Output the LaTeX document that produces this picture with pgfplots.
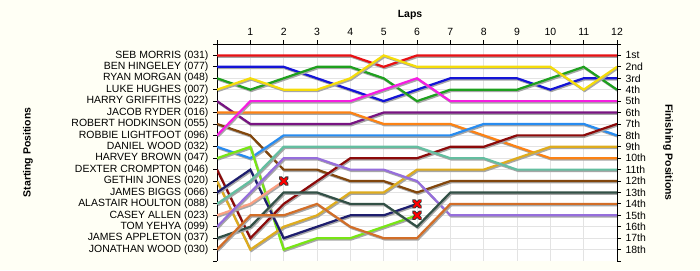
\documentclass[border=0pt]{standalone}
\usepackage{pgfplots}
\pgfplotsset{compat=1.18}
\usepackage{fontspec}
\setmainfont{Liberation Sans}
\definecolor{bg}{RGB}{255,255,245}
\definecolor{cRed}{RGB}{232,16,20}
\definecolor{cBlue}{RGB}{20,20,215}
\definecolor{cGreen}{RGB}{30,160,30}
\definecolor{cYellow}{RGB}{245,220,10}
\definecolor{cPurple}{RGB}{120,20,130}
\definecolor{cOrange}{RGB}{252,130,20}
\definecolor{cBrown}{RGB}{130,70,12}
\definecolor{cMagenta}{RGB}{245,30,225}
\definecolor{cLBlue}{RGB}{40,140,240}
\definecolor{cLime}{RGB}{120,230,20}
\definecolor{cDRed}{RGB}{140,10,10}
\definecolor{cGold}{RGB}{222,172,30}
\definecolor{cNavy}{RGB}{30,30,110}
\definecolor{cTeal}{RGB}{100,190,160}
\definecolor{cSalmon}{RGB}{250,160,130}
\definecolor{cLav}{RGB}{150,110,220}
\definecolor{cSlate}{RGB}{50,80,70}
\definecolor{cCopper}{RGB}{210,110,40}
\pgfplotsset{
  lap/.style={line width=2.2bp, no marks, preaction={draw=black!35, transform canvas={xshift=1bp, yshift=-1.3bp}}},
  common/.style={
    at={(217bp,9bp)}, anchor=south west,
    scale only axis, width=400bp, height=217bp,
    xmin=0, xmax=12, ymin=0, ymax=19, y dir=reverse,
    axis line style={-, black, line width=1bp},
    tick align=outside, major tick length=4bp,
    tick style={black, line width=0.8bp},
    ticklabel style={font=\fontsize{10.5}{12}\selectfont},
    /pgf/number format/assume math mode=true,
  }
}
\begin{document}
\begin{tikzpicture}[x=1bp,y=1bp]
\fill[bg] (0,0) rectangle (700,270);
\begin{axis}[common,
  axis background/.style={fill=white},
  axis x line*=top, axis y line*=left,
  xtick={0,1,2,3,4,5,6,7,8,9,10,11,12},
  xticklabels={,1,2,3,4,5,6,7,8,9,10,11,12},
  ytick={1,2,3,4,5,6,7,8,9,10,11,12,13,14,15,16,17,18},
  yticklabels={SEB MORRIS (031),BEN HINGELEY (077),RYAN MORGAN (048),LUKE HUGHES (007),HARRY GRIFFITHS (022),JACOB RYDER (016),ROBERT HODKINSON (055),ROBBIE LIGHTFOOT (096),DANIEL WOOD (032),HARVEY BROWN (047),DEXTER CROMPTON (046),GETHIN JONES (020),JAMES BIGGS (066),ALASTAIR HOULTON (088),CASEY ALLEN (023),TOM YEHYA (099),JAMES APPLETON (037),JONATHAN WOOD (030)},
  extra y ticks={0,19}, extra y tick labels={,},
  extra y tick style={grid=none},
  grid=major, major grid style={gray!22, line width=0.6bp},
  yticklabel style={xshift=-1bp},
  xticklabel style={yshift=1bp},
]
\addplot[lap, cRed] coordinates {(0,1)(1,1)(2,1)(3,1)(4,1)(5,2)(6,1)(7,1)(8,1)(9,1)(10,1)(11,1)(12,1)};
\addplot[lap, cBlue] coordinates {(0,2)(1,2)(2,2)(3,3)(4,4)(5,5)(6,4)(7,3)(8,3)(9,3)(10,4)(11,3)(12,3)};
\addplot[lap, cGreen] coordinates {(0,3)(1,4)(2,3)(3,2)(4,2)(5,3)(6,5)(7,4)(8,4)(9,4)(10,3)(11,2)(12,4)};
\addplot[lap, cYellow] coordinates {(0,4)(1,3)(2,4)(3,4)(4,3)(5,1)(6,2)(7,2)(8,2)(9,2)(10,2)(11,4)(12,2)};
\addplot[lap, cPurple] coordinates {(0,5)(1,7)(2,7)(3,7)(4,7)(5,6)(6,6)(7,6)(8,6)(9,6)(10,6)(11,6)(12,6)};
\addplot[lap, cOrange] coordinates {(0,6)(1,6)(2,6)(3,6)(4,6)(5,7)(6,7)(7,7)(8,8)(9,9)(10,10)(11,10)(12,10)};
\addplot[lap, cBrown] coordinates {(0,7)(1,8)(2,11)(3,11)(4,12)(5,12)(6,13)(7,12)(8,12)(9,12)(10,12)(11,12)(12,12)};
\addplot[lap, cMagenta] coordinates {(0,8)(1,5)(2,5)(3,5)(4,5)(5,4)(6,3)(7,5)(8,5)(9,5)(10,5)(11,5)(12,5)};
\addplot[lap, cLBlue] coordinates {(0,9)(1,10)(2,8)(3,8)(4,8)(5,8)(6,8)(7,8)(8,7)(9,7)(10,7)(11,7)(12,8)};
\addplot[lap, cLime] coordinates {(0,10)(1,9)(2,18)(3,17)(4,17)(5,16)(6,15)};
\addplot[lap, cDRed] coordinates {(0,11)(1,17)(2,14)(3,12)(4,10)(5,10)(6,10)(7,9)(8,9)(9,8)(10,8)(11,8)(12,7)};
\addplot[lap, cGold] coordinates {(0,12)(1,18)(2,16)(3,15)(4,13)(5,13)(6,11)(7,11)(8,11)(9,10)(10,9)(11,9)(12,9)};
\addplot[lap, cNavy] coordinates {(0,13)(1,11)(2,17)(3,16)(4,15)(5,15)(6,14)};
\addplot[lap, cTeal] coordinates {(0,14)(1,12)(2,9)(3,9)(4,9)(5,9)(6,9)(7,10)(8,10)(9,11)(10,11)(11,11)(12,11)};
\addplot[lap, cSalmon] coordinates {(0,15)(1,14)(2,12)};
\addplot[lap, cLav] coordinates {(0,16)(1,13)(2,10)(3,10)(4,11)(5,11)(6,12)(7,15)(8,15)(9,15)(10,15)(11,15)(12,15)};
\addplot[lap, cSlate] coordinates {(0,17)(1,16)(2,13)(3,13)(4,14)(5,14)(6,16)(7,13)(8,13)(9,13)(10,13)(11,13)(12,13)};
\addplot[lap, cCopper] coordinates {(0,18)(1,15)(2,15)(3,14)(4,16)(5,17)(6,17)(7,14)(8,14)(9,14)(10,14)(11,14)(12,14)};
\addplot[only marks, mark=x, mark size=4.6bp, black!80, mark options={line width=3.8bp, line cap=round}] coordinates {(2,12)(6,14)(6,15)};
\addplot[only marks, mark=x, mark size=4.2bp, red, mark options={line width=2.2bp, line cap=round}] coordinates {(2,12)(6,14)(6,15)};
\end{axis}
\begin{axis}[common,
  axis x line=none, axis y line*=right,
  ytick={1,2,3,4,5,6,7,8,9,10,11,12,13,14,15,16,17,18},
  yticklabels={1st,2nd,3rd,4th,5th,6th,7th,8th,9th,10th,11th,12th,13th,14th,15th,16th,17th,18th},
  extra y ticks={0,19}, extra y tick labels={,},
  yticklabel style={xshift=1bp},
]
\end{axis}
\node[font=\bfseries\fontsize{10.5}{12}\selectfont] at (410,255) {Laps};
\node[font=\bfseries\fontsize{10.5}{12}\selectfont, rotate=90] at (28,117.5) {Starting Positions};
\node[font=\bfseries\fontsize{10.5}{12}\selectfont, rotate=-90] at (668,117.5) {Finishing Positions};
\end{tikzpicture}
\end{document}
